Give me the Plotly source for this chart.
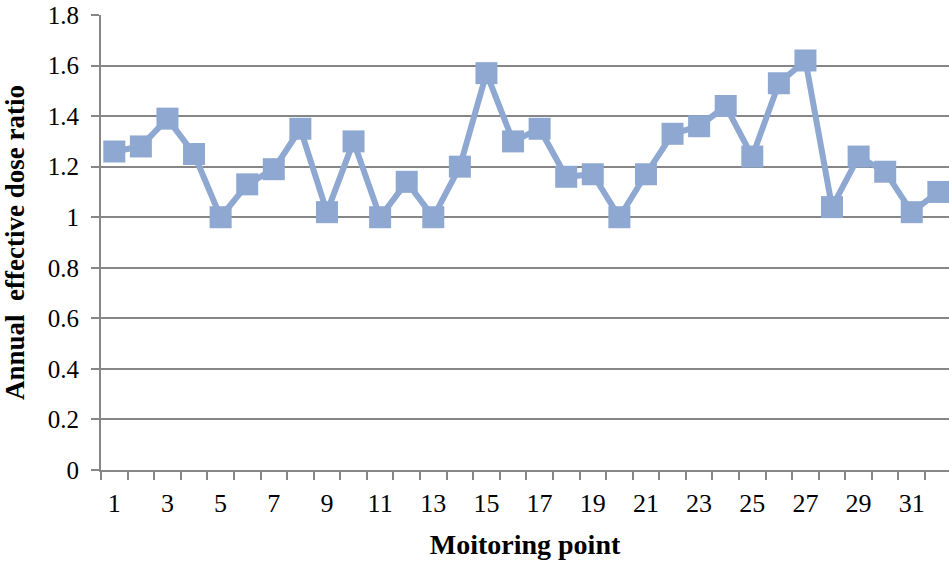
import plotly.graph_objects as go

# Monitoring points and their annual effective dose ratio
points = list(range(1, 33))
dose_ratio = [1.26, 1.28, 1.39, 1.25, 1.00, 1.13, 1.19, 1.35,
              1.02, 1.30, 1.00, 1.14, 1.00, 1.20, 1.57, 1.30,
              1.35, 1.16, 1.17, 1.00, 1.17, 1.33, 1.36, 1.44,
              1.24, 1.53, 1.62, 1.04, 1.24, 1.18, 1.02, 1.10]
x_tick_values = list(range(1, 32, 2))
x_tick_labels = [str(v) for v in x_tick_values]
y_tick_values = [0, 0.2, 0.4, 0.6, 0.8, 1, 1.2, 1.4, 1.6, 1.8]
y_tick_labels = ["0", "0.2", "0.4", "0.6", "0.8", "1", "1.2", "1.4", "1.6", "1.8"]

line_color = "#8EA8D2"
grid_color = "#868686"
serif = "Liberation Serif"

fig = go.Figure(
    go.Scatter(
        x=points,
        y=dose_ratio,
        mode="lines+markers",
        line=dict(color=line_color, width=6),
        marker=dict(symbol="square", size=22, color=line_color),
        cliponaxis=False,
    )
)

fig.update_layout(
    width=949,
    height=562,
    margin=dict(l=101, r=0, t=15, b=92),
    paper_bgcolor="white",
    plot_bgcolor="white",
    showlegend=False,
    font=dict(family=serif, color="black", size=25),
)

fig.update_xaxes(
    range=[0.5, 32.4],
    tickmode="array",
    tickvals=x_tick_values,
    ticktext=x_tick_labels,
    ticks="",
    ticklabelstandoff=9,
    tickfont=dict(size=26, family=serif, color="black"),
    showgrid=False,
    zeroline=False,
    showline=True,
    linecolor=grid_color,
    linewidth=2,
    minor=dict(tick0=0.5, dtick=1, ticks="outside", ticklen=8,
               tickcolor=grid_color, tickwidth=2, showgrid=False),
    title=dict(text="<b>Moitoring point</b>",
               font=dict(size=28, family=serif, color="black"), standoff=17),
)

fig.update_yaxes(
    range=[0, 1.8],
    tickmode="array",
    tickvals=y_tick_values,
    ticktext=y_tick_labels,
    ticks="outside",
    ticklen=8,
    tickcolor=grid_color,
    tickwidth=2,
    ticklabelstandoff=7,
    tickfont=dict(size=25, family=serif, color="black"),
    showgrid=True,
    gridcolor=grid_color,
    gridwidth=2,
    zeroline=False,
    showline=True,
    linecolor=grid_color,
    linewidth=2,
    title=dict(text="<b>Annual  effective dose ratio</b>",
               font=dict(size=27, family=serif, color="black"), standoff=17),
)

fig.write_html("out.html")
